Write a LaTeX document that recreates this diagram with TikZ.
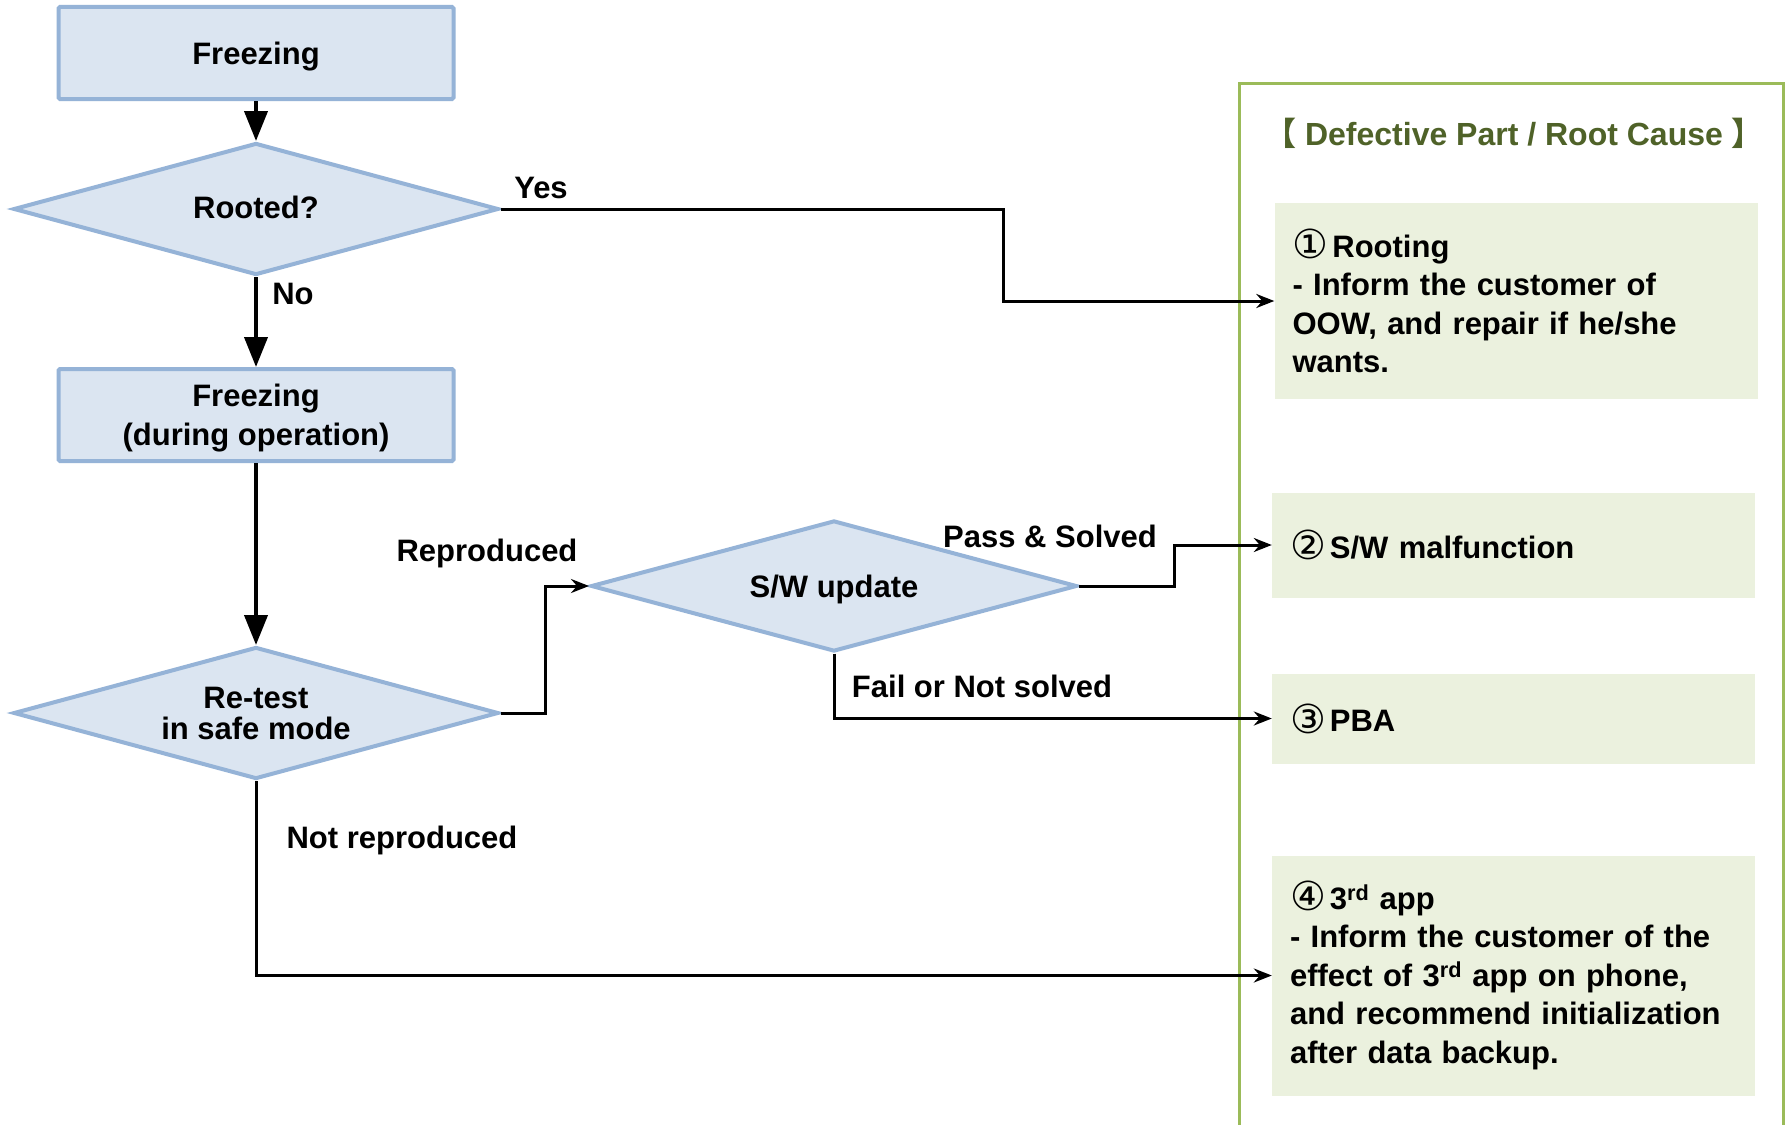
\documentclass[tikz,border=0pt]{standalone}
\usepackage{fontspec}
\setmainfont{Liberation Sans}
\newfontfamily\symfont{DejaVu Sans}
\newfontfamily\cjkfont{Noto Sans CJK SC}
\usetikzlibrary{shapes.geometric,arrows.meta}
\definecolor{flowfill}{HTML}{DBE5F1}
\definecolor{flowline}{HTML}{95B3D7}
\definecolor{causefill}{HTML}{EBF1DE}
\definecolor{causeframe}{HTML}{9BBB59}
\definecolor{causetitle}{HTML}{4F6228}
% circled numbers, set a little larger than the text around them
\newcommand{\circnum}[1]{{\symfont\mdseries\fontsize{40}{38.5}\selectfont\raisebox{-1.5pt}{#1}}\hspace{4pt}}
\begin{document}
\begin{tikzpicture}[x=1pt,y=-1pt,
  every node/.style={font=\fontsize{31}{38.5}\selectfont\bfseries},
  procbox/.style={draw=flowline,fill=flowfill,line width=4pt,rounded corners=1.5pt,
    minimum width=395pt,minimum height=92pt,align=center,inner sep=0pt,text depth=0pt},
  decision/.style={diamond,draw=flowline,fill=flowfill,line width=4pt,
    minimum width=485pt,minimum height=132pt,inner sep=0pt},
  dtext/.style={inner sep=0pt,align=center,font=\fontsize{31}{31}\selectfont\bfseries},
  causebox/.style={fill=causefill,text width=447pt,inner xsep=18pt,inner ysep=0pt,align=left},
  mainarrow/.style={line width=4pt,-{Triangle[length=30pt,width=23pt]}},
  conn/.style={line width=3pt,-{Stealth[length=18pt,width=14pt,inset=6pt]}},
  lbl/.style={inner sep=0pt}
]
\fill[white] (0,0) rectangle (1785,1124);
\useasboundingbox (0,0) rectangle (1785,1124);

% flow chart
\node[procbox] (f1) at (256,53) {Freezing};
\node[decision,label={[dtext,yshift=2pt]center:Rooted?}] (root) at (256,209) {};
\node[procbox] (f2) at (256,415) {Freezing\\(during operation)};
\node[decision,label={[dtext]center:Re-test\\in safe mode}] (retest) at (256,713) {};
\node[decision,minimum width=486pt,minimum height=131pt,
      label={[dtext,yshift=-3pt]center:S/W update}] (sw) at (834,586) {};

% cause panel
\draw[causeframe,line width=3pt] (1239,1140) -- (1239,83) -- (1783,83) -- (1783,1140);
\node[causetitle,lbl,font=\fontsize{32}{38}\selectfont\bfseries] (title) at (1514,133)
  {{\cjkfont 【} Defective Part / Root Cause {\cjkfont 】}};

\node[causebox,minimum height=196pt] (c1) at (1516,301)
  {\circnum{①}Rooting\\- Inform the customer of\\OOW, and repair if he/she\\wants.};
\node[causebox,minimum height=105pt] (c2) at (1513.5,545)
  {\circnum{②}S/W malfunction};
\node[causebox,minimum height=90pt] (c3) at (1513.5,718.5)
  {\circnum{③}PBA};
\node[causebox,minimum height=240pt] (c4) at (1513.5,975.5)
  {\circnum{④}3\textsuperscript{rd} app\\- Inform the customer of the\\effect of 3\textsuperscript{rd} app on phone,\\and recommend initialization\\after data backup.};

% connectors
\draw[mainarrow] (f1.south) -- (root.north);
\draw[mainarrow] (root.south) -- (f2.north);
\draw[mainarrow] (f2.south) -- (retest.north);

\draw[conn] (root.east) -| (1003,255) |- (c1.west);
\draw[conn] (retest.east) -| (545,650) |- (sw.west);
\draw[conn] (sw.east) -| (1174,565) |- (c2.west);
\draw[conn] (sw.south) |- (c3.west);
\draw[conn] (retest.south) |- (c4.west);

% branch labels
\node[lbl] (lyes) at (541,188) {Yes};
\node[lbl] (lno) at (293,294) {No};
\node[lbl] (lrep) at (487,553) {Reproduced};
\node[lbl] (lpass) at (1050,536) {Pass \& Solved};
\node[lbl] (lfail) at (982,686) {Fail or Not solved};
\node[lbl] (lnot) at (402,840) {Not reproduced};
\end{tikzpicture}
\end{document}
